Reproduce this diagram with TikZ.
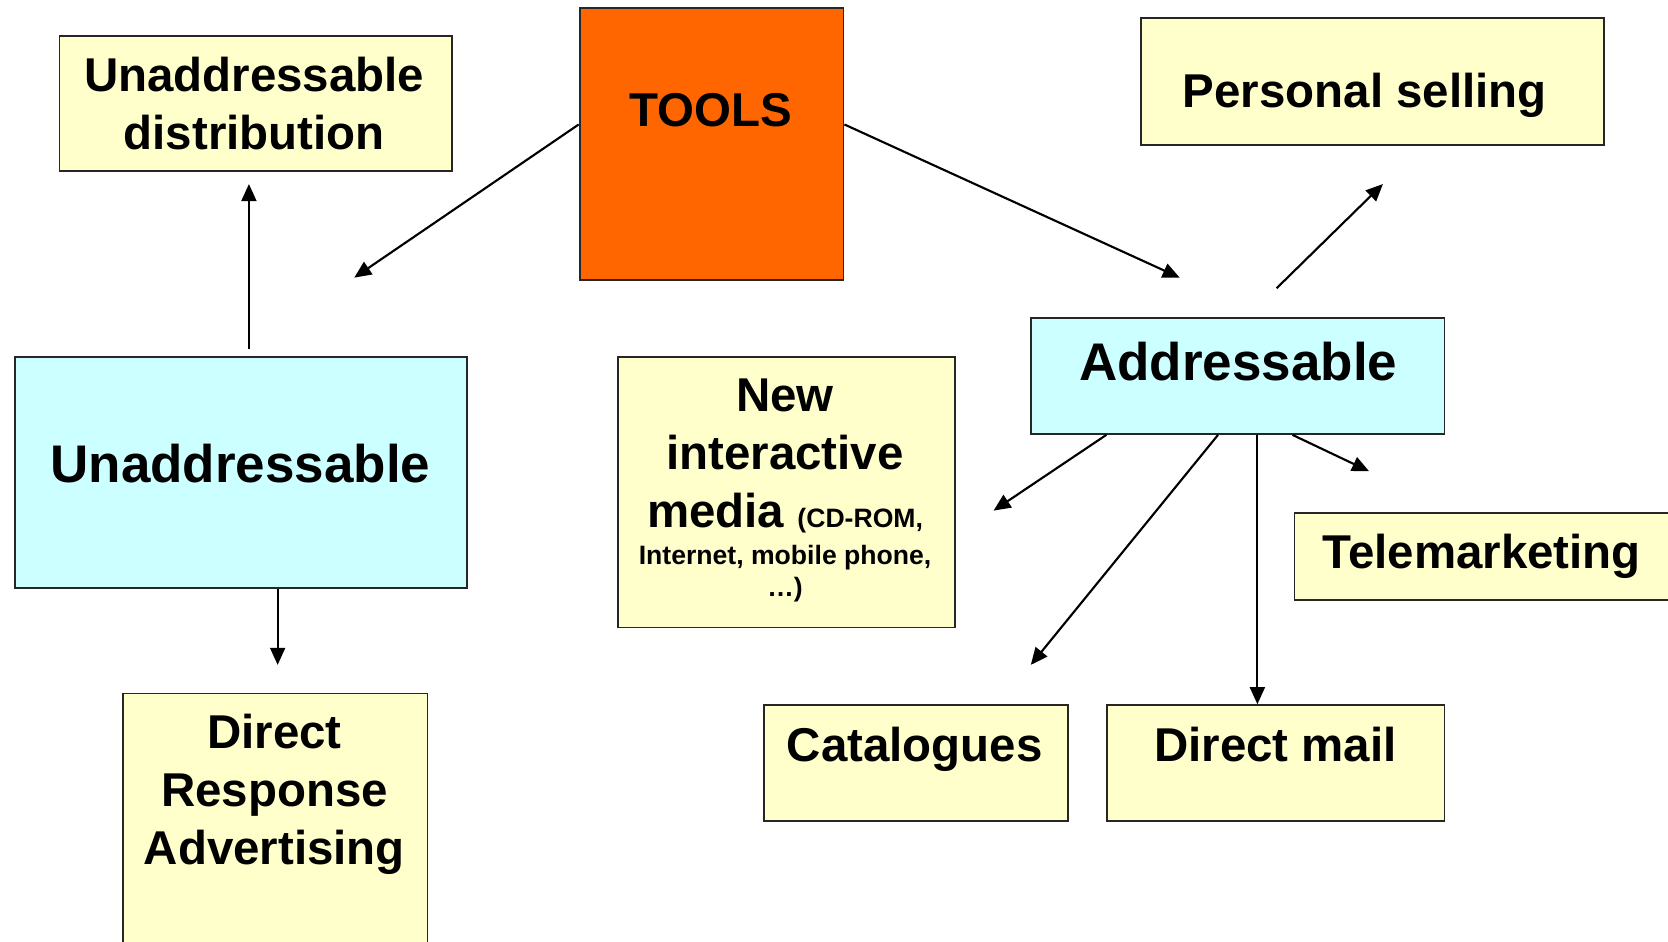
\documentclass[tikz,border=0pt]{standalone}
\usepackage{fontspec}
\setmainfont{Liberation Sans}
\usetikzlibrary{arrows.meta}
\definecolor{boxyellow}{HTML}{FFFFCC}
\definecolor{boxcyan}{HTML}{CCFFFF}
\definecolor{boxorange}{HTML}{FF6600}
\begin{document}
\begin{tikzpicture}[x=0.5pt,y=-0.5pt,
  boxbase/.style={draw=black!85, line width=0.9pt, rectangle, inner sep=0pt, anchor=north west},
  ybox/.style={boxbase, fill=boxyellow},
  cbox/.style={boxbase, fill=boxcyan},
  obox/.style={boxbase, fill=boxorange},
  txt/.style={inner sep=0pt, font=\bfseries\fontsize{22.3}{27.3}\selectfont, align=center},
  bigtxt/.style={inner sep=0pt, font=\bfseries\fontsize{24.9}{30}\selectfont, align=center},
  arr/.style={line width=1pt, -{Triangle[length=8pt,width=7pt]}}
]
\useasboundingbox (0,0) rectangle (1568,885);
\fill[white] (0,0) rectangle (1568,885);

% boxes
\node[ybox, minimum width=184.5pt, minimum height=63.5pt] (udist) at (55,33) {};
\node[obox, minimum width=124pt, minimum height=127.5pt] (tools) at (544,7) {};
\node[ybox, minimum width=217.5pt, minimum height=59.5pt] (psell) at (1072,16) {};
\node[cbox, minimum width=212.5pt, minimum height=108.5pt] (unad) at (13,335) {};
\node[cbox, minimum width=194.5pt, minimum height=54.5pt] (addr) at (968,298) {};
\node[ybox, minimum width=158.5pt, minimum height=127pt] (nim) at (580,335) {};
\node[ybox, minimum width=176pt, minimum height=41pt] (tele) at (1216,481) {};
\node[ybox, minimum width=143pt, minimum height=54.5pt] (cat) at (717,662) {};
\node[ybox, minimum width=158.5pt, minimum height=54.5pt] (dmail) at (1040,662) {};
\node[ybox, minimum width=143pt, minimum height=130pt] (dra) at (115,651) {};

% texts
\node[txt] (tUdist) at (239,97.5) {Unaddressable\\distribution};
\node[txt, anchor=base] (tTools) at (668,119) {TOOLS};
\node[txt, anchor=base] (tPsell) at (1283,101) {Personal selling};
\node[bigtxt, anchor=base] (tUnad) at (226,454) {Unaddressable};
\node[bigtxt, anchor=base] (tAddr) at (1164,358) {Addressable};
\node[txt, anchor=north] (tNim) at (738,356) {New\\interactive\\media {\fontsize{12.5}{15}\selectfont (CD-ROM,}\\[-10.3pt]{\fontsize{12.5}{15}\selectfont Internet, mobile phone,}\\[-12.3pt]{\fontsize{12.5}{15}\selectfont …)}};
\node[txt, anchor=base] (tTele) at (1393,534) {Telemarketing};
\node[txt, anchor=base] (tCat) at (860,716) {Catalogues};
\node[txt, anchor=base] (tDmail) at (1199,716) {Direct mail};
\node[txt] (tDra) at (258,747) {Direct\\Response\\Advertising};

% free ends
\coordinate (e1) at (333,261);
\coordinate (e2) at (1109,261);
\coordinate (e3) at (234,173);
\coordinate (e4) at (261,625);
\coordinate (s5) at (1200,271);
\coordinate (e5) at (1300,173);
\coordinate (e6) at (934,480);
\coordinate (e7) at (969,625);
\coordinate (e9) at (1287,443);

% connectors
\draw[arr] (tools.north west) ++(0,110) -- (e1);
\draw[arr] (tools.north east) ++(0,110) -- (e2);
\draw[arr] (unad.north west) ++(221,-7) -- (e3);
\draw[arr] (unad.south west) ++(248,0) -- (e4);
\draw[arr] (s5) -- (e5);
\draw[arr] (addr.south west) ++(72,0) -- (e6);
\draw[arr] (addr.south west) ++(177,0) -- (e7);
\draw[arr] (addr.south west) ++(214,0) coordinate (s8) -- (s8 |- dmail.north);
\draw[arr] (addr.south west) ++(247,0) -- (e9);
\end{tikzpicture}
\end{document}
